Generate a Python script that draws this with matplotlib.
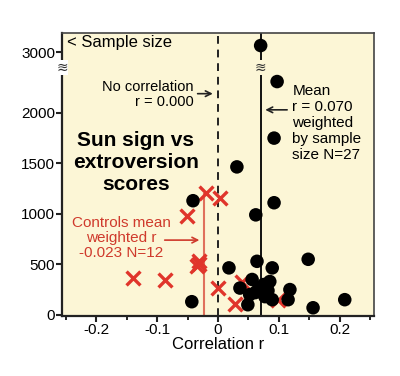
import numpy as np
import matplotlib
matplotlib.use("Agg")
import matplotlib.pyplot as plt

plt.rcParams['font.family'] = ['Liberation Sans', 'DejaVu Sans']

# sun sign studies: correlation r vs sample size
sun_r = [0.070, 0.097, 0.092, 0.031, -0.041, 0.092, 0.062, 0.064, 0.148,
         0.018, 0.089, 0.085, 0.056, 0.036, 0.118, 0.066, 0.061, 0.082,
         0.052, 0.077, 0.089, 0.115, -0.043, 0.049, 0.208, 0.156, 0.075]
sun_n = [3200, 2310, 1750, 1465, 1130, 1110, 990, 530, 550,
         465, 465, 330, 350, 265, 250, 250, 220, 240,
         200, 180, 150, 150, 130, 100, 150, 70, 300]

# control studies
ctrl_r = [-0.051, -0.020, 0.003, -0.032, -0.034, -0.031, 0.000, 0.028,
          0.098, -0.139, -0.087, 0.039]
ctrl_n = [980, 1210, 1160, 530, 480, 500, 265, 110, 150, 365, 345, 330]

mean_r = 0.070
ctrl_mean_r = -0.023

# broken y axis: above 2400 the scale is compressed
BREAK = 2400
def fwd(y):
    y = np.asarray(y, dtype=float)
    return np.where(y <= BREAK, y, BREAK + (y - BREAK) / 3.0)
def inv(y):
    y = np.asarray(y, dtype=float)
    return np.where(y <= BREAK, y, BREAK + (y - BREAK) * 3.0)

bg = '#fcf6d6'
red = '#e0352b'
red_txt = '#cf3a2c'

fig = plt.figure(figsize=(4, 3.76), dpi=100)
ax = fig.add_axes([0.155, 0.16, 0.78, 0.752])
ax.set_facecolor(bg)
ax.set_yscale('function', functions=(fwd, inv))
ax.set_xlim(-0.256, 0.256)
ax.set_ylim(-10, 3570)

# reference lines
ax.axvline(0, color='#222222', lw=1.4, ls=(0, (4, 3)), zorder=1)
ax.axvline(mean_r, color='#111111', lw=1.4, zorder=1)
ax.plot([ctrl_mean_r, ctrl_mean_r], [0, 1200], color='#e0705c', lw=1.5, zorder=1)

ax.scatter(ctrl_r, ctrl_n, marker='x', s=100, color=red, linewidths=2.4, zorder=2)
ax.scatter(sun_r, sun_n, marker='o', s=95, color='black', edgecolors='none', zorder=3)

# axis break marks
ax.text(0, 2540, '≋', transform=ax.get_yaxis_transform(), ha='center', va='center',
        fontsize=10, color='#333333', clip_on=False, zorder=5,
        family='DejaVu Sans',
        bbox=dict(facecolor='white', edgecolor='none', pad=0.3))
ax.text(mean_r, 2540, '≋', ha='center', va='center', fontsize=10, color='#333333',
        zorder=5, family='DejaVu Sans',
        bbox=dict(facecolor=bg, edgecolor='none', pad=0.3))

# ticks
ax.set_yticks([0, 500, 1000, 1500, 2000, 3000])
ax.set_yticklabels(['0', '500', '1000', '1500', '2000', '3000'])
ax.set_xticks([-0.2, -0.1, 0, 0.1, 0.2])
ax.set_xticklabels(['-0.2', '-0.1', '0', '0.1', '0.2'])
ax.set_xticks([-0.25, -0.15, -0.05, 0.05, 0.15, 0.25], minor=True)
ax.tick_params(axis='both', labelsize=11, length=4, width=1.5, pad=1, color='#222222')
ax.tick_params(axis='x', which='minor', length=3, width=1.2)
ax.yaxis.set_minor_locator(matplotlib.ticker.NullLocator())
for s in ('left', 'bottom'):
    ax.spines[s].set_linewidth(1.6)
    ax.spines[s].set_color('#222222')
for s in ('top', 'right'):
    ax.spines[s].set_linewidth(1.2)
    ax.spines[s].set_color('#444444')

ax.set_xlabel('Correlation r', fontsize=12, labelpad=0)

# annotations
ax.text(-0.247, 3300, '< Sample size', fontsize=12, ha='left', va='center')
ax.text(-0.04, 2180, 'No correlation\nr = 0.000', fontsize=10.5, ha='right', va='center',
        multialignment='right', linespacing=1.05)
ax.annotate('', xy=(-0.004, 2190), xytext=(-0.038, 2190),
            arrowprops=dict(arrowstyle='->', color='#222222', lw=1.2))
ax.text(-0.135, 1510, 'Sun sign vs\nextroversion\nscores', fontsize=15, fontweight='bold',
        ha='center', va='center', linespacing=1.2)
ax.text(0.122, 2290, 'Mean\nr = 0.070\nweighted\nby sample\nsize N=27', fontsize=11,
        ha='left', va='top', linespacing=1.2)
ax.annotate('', xy=(mean_r + 0.003, 2030), xytext=(0.118, 2030),
            arrowprops=dict(arrowstyle='->', color='#222222', lw=1.2))
ax.text(-0.159, 760, 'Controls mean\nweighted r\n-0.023 N=12', fontsize=11, color=red_txt,
        ha='center', va='center', linespacing=1.1)
ax.annotate('', xy=(ctrl_mean_r - 0.003, 740), xytext=(-0.092, 740),
            arrowprops=dict(arrowstyle='->', color=red_txt, lw=1.2))

fig.savefig('out.png', dpi=100, facecolor='white')
